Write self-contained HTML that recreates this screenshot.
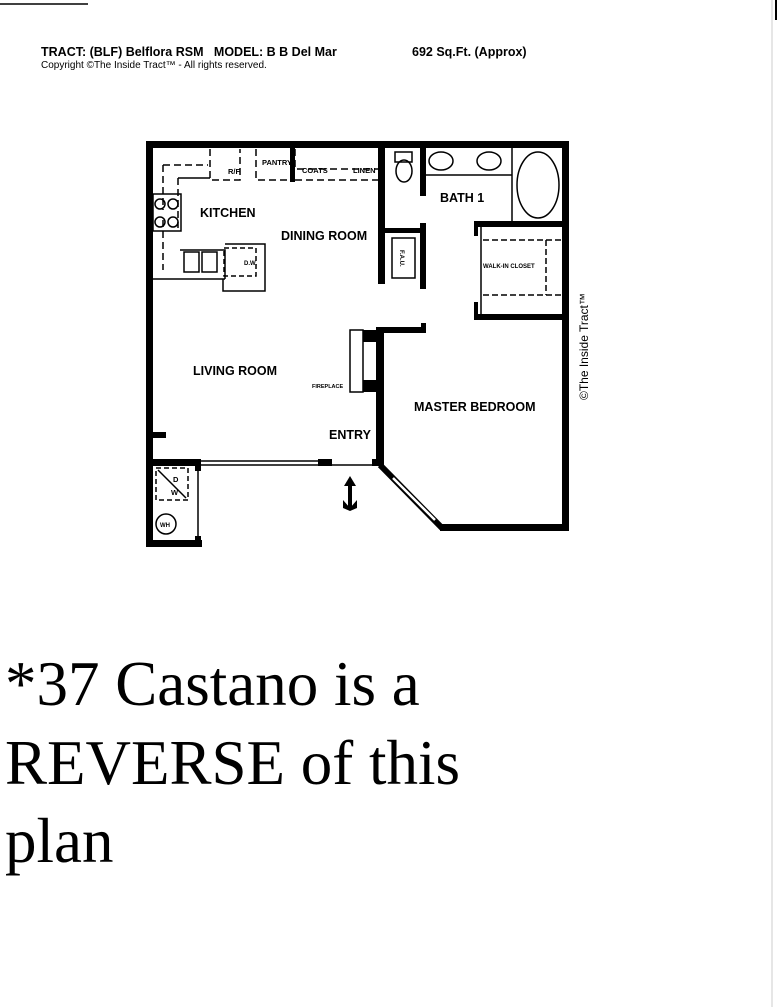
<!DOCTYPE html>
<html><head><style>
body{margin:0;background:#fff;width:779px;height:1007px;overflow:hidden;position:relative;font-family:"Liberation Sans",sans-serif}
.h{position:absolute;font-weight:bold;font-size:12.5px;top:45px}
.big{position:absolute;left:5px;font-family:"Liberation Serif",serif;font-size:63px;line-height:63px;color:#000;white-space:nowrap}
</style></head><body>
<div class="h" style="left:41px">TRACT: (BLF) Belflora RSM &nbsp; MODEL: B B Del Mar</div>
<div class="h" style="left:412px">692 Sq.Ft. (Approx)</div>
<div style="position:absolute;left:41px;top:60px;font-size:10px">Copyright ©The Inside Tract™ - All rights reserved.</div>
<svg width="779" height="1007" style="position:absolute;left:0;top:0" font-family="Liberation Sans, sans-serif" font-weight="bold">
<line x1="0" y1="4" x2="88" y2="4" stroke="#000" stroke-width="1.5"/>
<line x1="772" y1="0" x2="772" y2="1007" stroke="#ccc" stroke-width="1"/>
<line x1="776" y1="0" x2="776" y2="20" stroke="#000" stroke-width="2"/>
<g fill="#000">
<rect x="146" y="141" width="423" height="7"/>
<rect x="146" y="141" width="7" height="406"/>
<rect x="562" y="141" width="7" height="390"/>
<rect x="378" y="141" width="7" height="143"/>
<rect x="420" y="141" width="6" height="55"/>
<rect x="420" y="223" width="6" height="66"/>
<rect x="378" y="228" width="48" height="5"/>
<rect x="474" y="221" width="95" height="6"/>
<rect x="474" y="314" width="95" height="6"/>
<rect x="474" y="221" width="4" height="15"/><rect x="474" y="302" width="4" height="15"/>
<rect x="290" y="146" width="5" height="36"/>
<rect x="376" y="330" width="8" height="136"/>
<rect x="376" y="327" width="50" height="6"/>
<rect x="421" y="323" width="5" height="10"/>
<rect x="363" y="330" width="14" height="12"/><rect x="363" y="380" width="14" height="12"/>
<rect x="146" y="459" width="54" height="7"/>
<rect x="318" y="459" width="14" height="7"/>
<rect x="372" y="459" width="12" height="7"/>
<rect x="440" y="524" width="129" height="7"/>
<rect x="146" y="540" width="56" height="7"/>
<rect x="146" y="432" width="20" height="6"/>
<rect x="195" y="459" width="6" height="12"/><rect x="195" y="536" width="6" height="10"/>
</g>
<g fill="none" stroke="#000" stroke-width="1.5">
<line x1="200" y1="461" x2="318" y2="461"/><line x1="200" y1="465" x2="318" y2="465"/>
<line x1="332" y1="465" x2="375" y2="465"/>
<line x1="198" y1="466" x2="198" y2="540"/>
<path d="M380 465 L442 528" stroke-width="6"/>
<path d="M393 478 L435 520" stroke="#fff" stroke-width="2.5"/>
<line x1="512" y1="148" x2="512" y2="221"/>
<ellipse cx="538" cy="185" rx="21" ry="33"/>
<line x1="426" y1="175" x2="512" y2="175"/>
<ellipse cx="441" cy="161" rx="12" ry="9"/><ellipse cx="489" cy="161" rx="12" ry="9"/>
<path d="M395 152 h17 v10 h-17z"/><ellipse cx="404" cy="171" rx="8" ry="11"/>
<rect x="392" y="238" width="23" height="40"/>
<line x1="481" y1="227" x2="481" y2="314"/>
<path d="M483 240 h80 M483 295 h80" stroke-dasharray="6 3"/>
<path d="M546 240 v55" stroke-dasharray="6 3"/>
<path d="M163 165 v45 M163 220 v50 M163 165 h45 M178 178 v50" stroke-dasharray="7 4"/>
<path d="M178 178 h32"/>
<path d="M210 149 v31 h30 v-31 M256 149 v31 h34 M295 180 h85 M295 149 v20 h85" stroke-dasharray="7 4"/>
<rect x="153" y="194" width="28" height="37"/>
<circle cx="160" cy="204" r="5"/><circle cx="173" cy="204" r="5"/><circle cx="160" cy="222" r="5"/><circle cx="173" cy="222" r="5"/>
<path d="M153 279 h72 M180 250 h45 v29 M225 244 h40 v47 h-42 v-12"/>
<rect x="184" y="252" width="15" height="20"/><rect x="202" y="252" width="15" height="20"/>
<rect x="224" y="248" width="32" height="28" stroke-dasharray="5 3"/>
<rect x="350" y="330" width="13" height="62"/>
<rect x="156" y="468" width="32" height="32" stroke-dasharray="5 3"/>
<line x1="158" y1="470" x2="186" y2="498"/>
<circle cx="166" cy="524" r="10"/>
</g>
<g font-size="7.5"><text x="228" y="174">R/F</text><text x="262" y="165">PANTRY</text><text x="302" y="173">COATS</text><text x="353" y="173">LINEN</text>
<text x="171" y="495">W</text><text x="173" y="482">D</text><text x="160" y="527" font-size="6">WH</text>
<text x="312" y="388" font-size="5.5">FIREPLACE</text>
<text x="483" y="268" font-size="6">WALK-IN CLOSET</text>
<text x="400" y="250" font-size="6" transform="rotate(90 400 250)">F.A.U.</text>
<text x="244" y="265" font-size="6">D.W.</text></g>
<g font-size="12.5"><text x="200" y="217">KITCHEN</text><text x="281" y="240">DINING ROOM</text><text x="440" y="202">BATH 1</text>
<text x="193" y="375">LIVING ROOM</text><text x="414" y="411">MASTER BEDROOM</text><text x="329" y="439">ENTRY</text></g>
<path d="M350 476 l-6 10 h12z M348 486 h4 v24 h-4z M343 500 l7 8 l7 -8 v8 l-7 3 l-7 -3z" fill="#000"/>
<text x="588" y="400" font-size="12" font-weight="normal" transform="rotate(-90 588 400)">©The Inside Tract™</text>
</svg>
<div class="big" style="top:653px">*37 Castano is a</div>
<div class="big" style="top:732px">REVERSE of this</div>
<div class="big" style="top:810px">plan</div>
</body></html>
